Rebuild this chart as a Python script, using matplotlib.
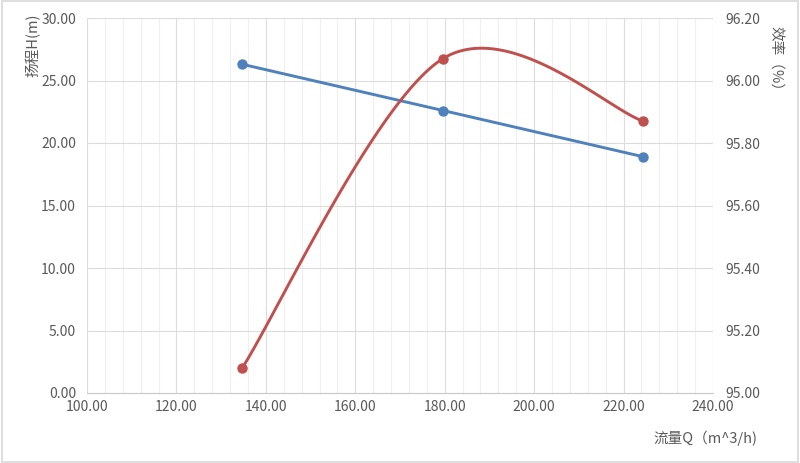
import numpy as np
import matplotlib.pyplot as plt
from matplotlib.ticker import MultipleLocator, FormatStrFormatter

plt.rcParams['font.family'] = ['Noto Sans CJK SC', 'DejaVu Sans']

# flow Q (m^3/h), head H (m), efficiency (%)
flow = [134.7, 179.6, 224.4]
head = [26.3, 22.6, 18.9]
eff = [95.08, 96.07, 95.87]

BLUE = "#4F81BD"
RED = "#C0504D"
TXT = "#595959"

# plot area in pixels
L, B, W, H = 87, 393, 626, 375


def excel_smooth(px, py, n=60):
    # Catmull-Rom style bezier like Excel's "smoothed line", in pixel space
    pts = np.column_stack([px, py])
    out = []
    for i in range(len(pts) - 1):
        p0 = pts[max(i - 1, 0)]
        p1 = pts[i]
        p2 = pts[i + 1]
        p3 = pts[min(i + 2, len(pts) - 1)]
        c1 = p1 + (p2 - p0) / 6
        c2 = p2 - (p3 - p1) / 6
        t = np.linspace(0, 1, n)[:, None]
        seg = ((1 - t) ** 3 * p1 + 3 * (1 - t) ** 2 * t * c1
               + 3 * (1 - t) * t ** 2 * c2 + t ** 3 * p2)
        out.append(seg if i == 0 else seg[1:])
    out = np.vstack(out)
    return out[:, 0], out[:, 1]


fig = plt.figure(figsize=(8, 4.63), dpi=100)
ax = fig.add_axes([L / 800, 1 - B / 463, W / 800, H / 463])
ax2 = ax.twinx()

ax.set_xlim(100, 240)
ax.set_ylim(0, 30)
ax2.set_ylim(95.0, 96.2)

ax.xaxis.set_major_locator(MultipleLocator(20))
ax.xaxis.set_minor_locator(MultipleLocator(4))
ax.yaxis.set_major_locator(MultipleLocator(5))
ax2.yaxis.set_major_locator(MultipleLocator(0.2))
ax.xaxis.set_major_formatter(FormatStrFormatter("%.2f"))
ax.yaxis.set_major_formatter(FormatStrFormatter("%.2f"))
ax2.yaxis.set_major_formatter(FormatStrFormatter("%.2f"))

ax.grid(which="major", color="#dcdcdc", lw=0.8)
ax.grid(which="minor", axis="x", color="#efefef", lw=0.8)
ax.set_axisbelow(True)

for a in (ax, ax2):
    for s in a.spines.values():
        s.set_visible(False)
    a.tick_params(which="both", length=0, labelsize=10, colors=TXT)
ax.spines["bottom"].set_visible(True)
ax.spines["bottom"].set_color("#c8c8c8")
ax.tick_params(axis="y", pad=8)
ax.tick_params(axis="x", pad=5)
ax2.tick_params(axis="y", pad=9)

# head: straight lines
ax.plot(flow, head, color=BLUE, lw=2.1, marker="o", ms=6.5, zorder=3)

# efficiency: smoothed curve, computed in pixel space of the plot area
x0, x1 = ax.get_xlim()
y0, y1 = ax2.get_ylim()
fx = (np.array(flow) - x0) / (x1 - x0) * W
fy = (np.array(eff) - y0) / (y1 - y0) * H
sx, sy = excel_smooth(fx, fy)
ax2.plot(sx / W * (x1 - x0) + x0, sy / H * (y1 - y0) + y0,
         color=RED, lw=2.1, zorder=3)
ax2.plot(flow, eff, ls="none", color=RED, marker="o", ms=6.5, zorder=4)

fig.text(33 / 800, 1 - 45 / 463, "扬程H(m)", rotation=90, ha="center",
         va="center", fontsize=10.5, color=TXT)
fig.text(775 / 800, 1 - 62 / 463, "效率（%）", rotation=270, ha="center",
         va="center", fontsize=10.5, color=TXT)
fig.text(757 / 800, 1 - 438 / 463, "流量Q（m^3/h)", ha="right",
         va="center", fontsize=10.5, color=TXT)

# chart area border
fig.patches.append(plt.Rectangle((0.002, 0.003), 0.996, 0.994,
                                 transform=fig.transFigure, fill=False,
                                 edgecolor="#d9d9d9", lw=1.2))

fig.savefig("out.png", dpi=100)
